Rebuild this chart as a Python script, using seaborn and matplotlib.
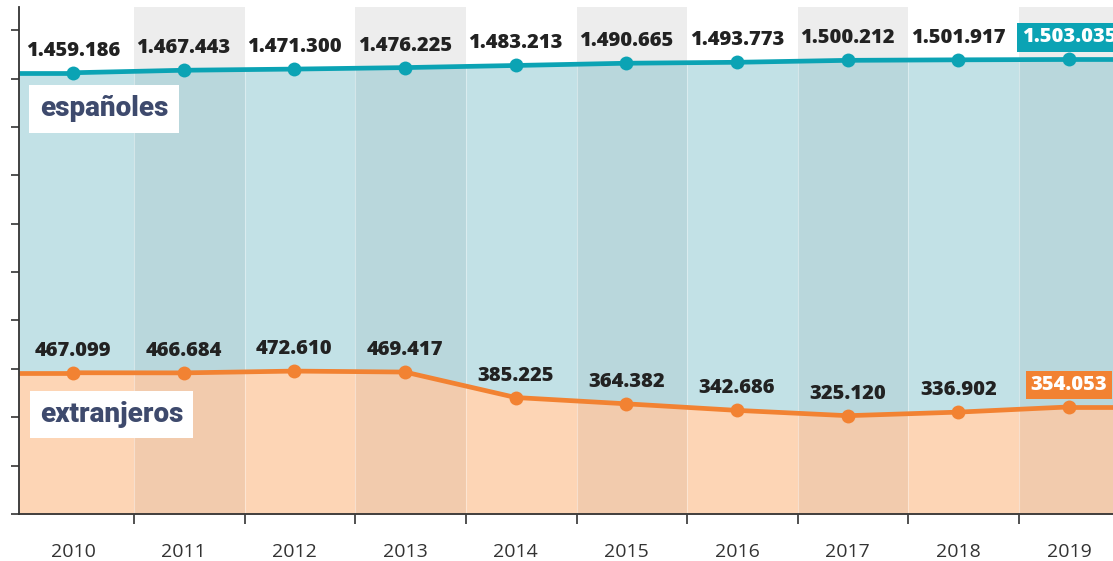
import pandas as pd
import matplotlib.pyplot as plt
import seaborn as sns

years = [2010, 2011, 2012, 2013, 2014, 2015, 2016, 2017, 2018, 2019]
espanoles = [1459186, 1467443, 1471300, 1476225, 1483213, 1490665, 1493773, 1500212, 1501917, 1503035]
extranjeros = [467099, 466684, 472610, 469417, 385225, 364382, 342686, 325120, 336902, 354053]
series_names = ["españoles", "extranjeros"]


def fmt(v):
    return f"{v:,}".replace(",", ".")


def main():
    sns.set_style("white")
    plt.rcParams['font.family'] = ['Open Sans', 'DejaVu Sans']

    teal, teal_fill = "#0ba3b4", "#c2e1e6"
    orange, orange_fill = "#f28232", "#fdd5b5"
    navy = "#3e4a6d"

    df = pd.DataFrame({
        "year": years * 2,
        "value": espanoles + extranjeros,
        "grupo": [series_names[0]] * len(years) + [series_names[1]] * len(years),
    })

    fig = plt.figure(figsize=(11.13, 5.61), dpi=100)
    ax = fig.add_axes([19 / 1113, 47 / 561, 1094 / 1113, 507 / 561])

    x0, x1 = 2009.512, 2019.398
    ax.set_xlim(x0, x1)
    ax.set_ylim(0, 1676600)

    bounds = [x0] + [y + 0.55 for y in years[:-1]] + [x1]
    odd = range(1, len(years), 2)

    # light gray columns on the white background
    for i in odd:
        ax.axvspan(bounds[i], bounds[i + 1], color="#ededed", lw=0, zorder=0.5)

    # areas, extended flat to the edges
    x_ext = [x0] + years + [x1]
    teal_area = ax.fill_between(x_ext, [espanoles[0]] + espanoles + [espanoles[-1]], 0,
                                color=teal_fill, lw=0, zorder=1)
    ax.fill_between(x_ext, [extranjeros[0]] + extranjeros + [extranjeros[-1]], 0,
                    color=orange_fill, lw=0, zorder=2)

    # darker columns inside the areas
    clip = teal_area.get_paths()[0]
    for i in odd:
        sp = ax.axvspan(bounds[i], bounds[i + 1], color="black", alpha=0.045, lw=0, zorder=3)
        sp.set_clip_path(clip, ax.transData)
    for b in bounds[1:-1]:
        ln = ax.axvline(b, color="white", lw=0.8, alpha=0.4, zorder=3)
        ln.set_clip_path(clip, ax.transData)

    sns.lineplot(data=df, x="year", y="value", hue="grupo",
                 palette={series_names[0]: teal, series_names[1]: orange},
                 marker="o", markersize=10, markeredgewidth=0, linewidth=3.4,
                 legend=False, ax=ax, zorder=5)
    for vals, c in [(espanoles, teal), (extranjeros, orange)]:
        ax.plot([x0, years[0]], [vals[0], vals[0]], color=c, lw=3.4, zorder=5,
                solid_capstyle="butt")
        ax.plot([years[-1], x1], [vals[-1], vals[-1]], color=c, lw=3.4, zorder=5,
                solid_capstyle="butt")

    # value labels
    for vals, c in [(espanoles, teal), (extranjeros, orange)]:
        for i, (yr, v) in enumerate(zip(years, vals)):
            last = i == len(years) - 1
            kw = dict(bbox=dict(boxstyle="square,pad=0.22", fc=c, ec="none")) if last else {}
            ax.annotate(fmt(v), (yr, v), xytext=(0, 22), textcoords="offset pixels",
                        ha="center", va="center", fontsize=14.5, fontweight="heavy",
                        color="white" if last else "#222222", zorder=6, **kw)

    # series names
    for name, ypix, pad in [(series_names[0], 109, 0.38), (series_names[1], 414, 0.36)]:
        fig.text(40 / 1113, 1 - ypix / 561, name, ha="left", va="center",
                 fontsize=20, fontweight="black", color=navy,
                 family=["Roboto", "DejaVu Sans"], zorder=7,
                 bbox=dict(boxstyle=f"square,pad={pad}", fc="white", ec="none"))

    # axes styling
    for s in ["top", "right"]:
        ax.spines[s].set_visible(False)
    for s in ["left", "bottom"]:
        ax.spines[s].set_color("#333333")
        ax.spines[s].set_linewidth(1.3)
        ax.spines[s].set_zorder(8)

    ax.set_yticks(range(0, 1600001, 160000))
    ax.set_yticklabels([])
    ax.tick_params(axis="y", direction="out", length=6, width=1.2, color="#333333", left=True)

    ax.set_xticks(bounds[1:-1])
    ax.set_xticklabels([])
    ax.tick_params(axis="x", which="major", direction="out", length=7, width=1.2,
                   color="#333333", bottom=True)
    ax.set_xticks(years, minor=True)
    ax.set_xticklabels([str(y) for y in years], minor=True, fontsize=14, color="#333333")
    ax.tick_params(axis="x", which="minor", length=0, pad=21)
    ax.set_xlabel("")
    ax.set_ylabel("")
    ax.grid(False)

    fig.savefig("out.png", dpi=100)


if __name__ == "__main__":
    main()
